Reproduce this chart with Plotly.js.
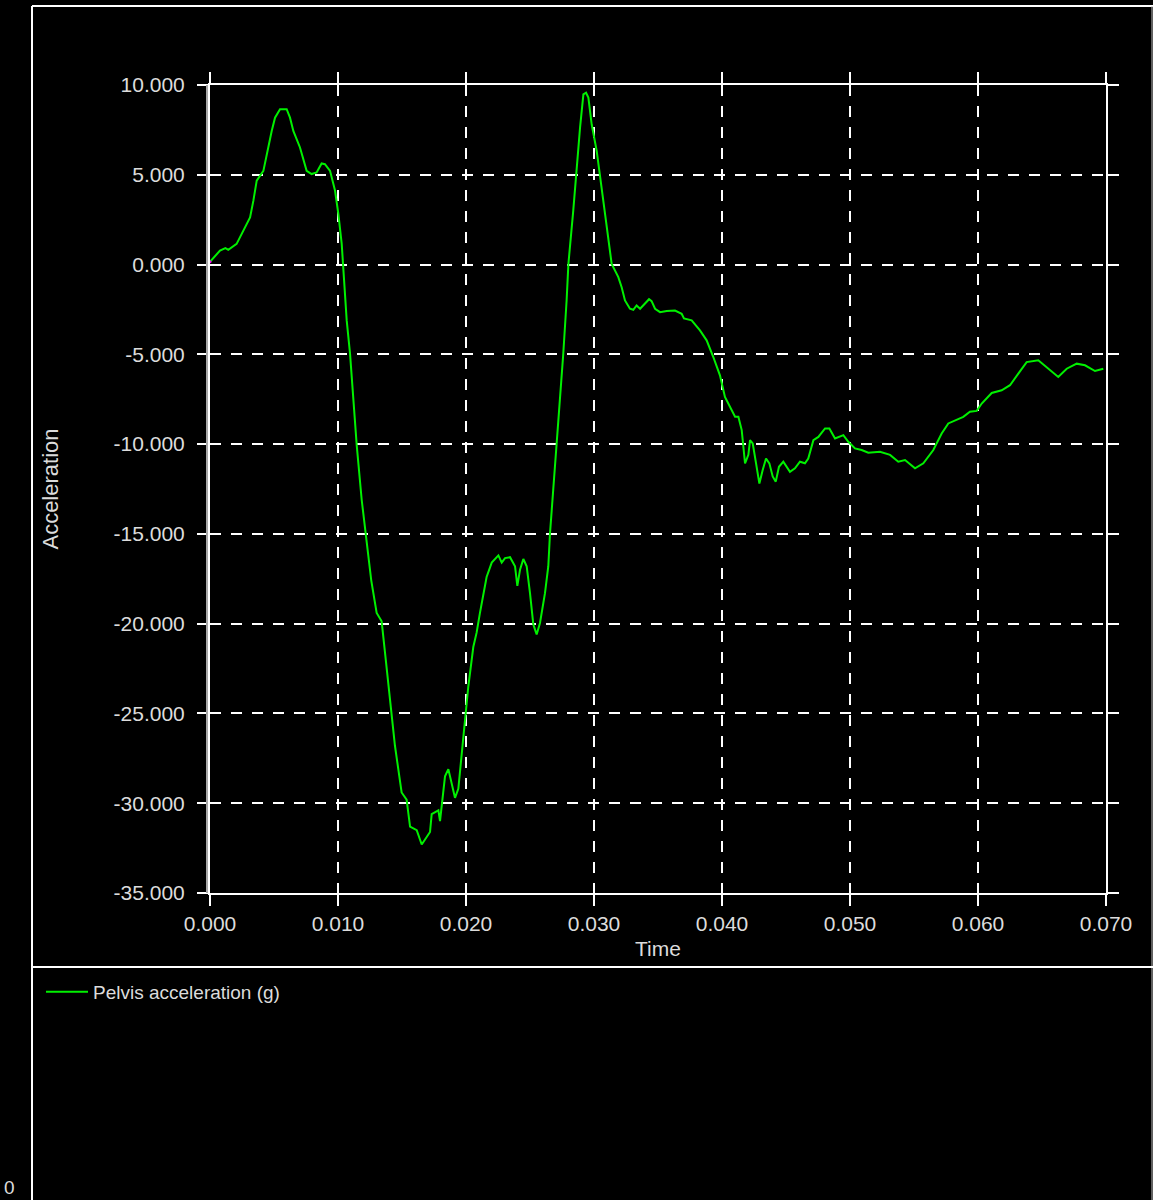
<!DOCTYPE html>
<html>
<head>
<meta charset="utf-8">
<script src="https://cdn.plot.ly/plotly-3.0.1.min.js"></script>
<style>
html,body{margin:0;padding:0;background:#000;}
#chart{width:1172px;height:1200px;}
</style>
</head>
<body>
<div id="chart"></div>
<script>
// Time (s)
const time = [
0, 0.00078, 0.0012, 0.00143, 0.00208, 0.0026, 0.00313, 0.00339, 0.00365, 0.00417,
0.00443, 0.00482, 0.00508, 0.00547, 0.00599, 0.00625, 0.00651, 0.00703, 0.00755, 0.00794,
0.00833, 0.00872, 0.00898, 0.00938, 0.00977, 0.01003, 0.01029, 0.01055, 0.01068, 0.01094,
0.0112, 0.01146, 0.01185, 0.01224, 0.0126, 0.01302, 0.01341, 0.01367, 0.01406, 0.01445,
0.01497, 0.01536, 0.01563, 0.01615, 0.01654, 0.01719, 0.01732, 0.01784, 0.01797, 0.01836,
0.01862, 0.01914, 0.0194, 0.01966, 0.01992, 0.02018, 0.02057, 0.02083, 0.02109, 0.02135,
0.02161, 0.02201, 0.02253, 0.02279, 0.02305, 0.02344, 0.02383, 0.02401, 0.02422, 0.02448,
0.02474, 0.025, 0.02526, 0.02552, 0.02578, 0.02617, 0.02643, 0.02656, 0.02708, 0.02734,
0.0276, 0.02786, 0.028, 0.02838, 0.02865, 0.02891, 0.02917, 0.02938, 0.02956, 0.02982,
0.03021, 0.0306, 0.03099, 0.03138, 0.0319, 0.03216, 0.03242, 0.03281, 0.03307, 0.03333,
0.0336, 0.03398, 0.0343, 0.0345, 0.03477, 0.03516, 0.03568, 0.03633, 0.03685, 0.03703,
0.03763, 0.03828, 0.0388, 0.03932, 0.03984, 0.04023, 0.04063, 0.04102, 0.04128, 0.04154,
0.0418, 0.04206, 0.04219, 0.0424, 0.04266, 0.04292, 0.04318, 0.04344, 0.0437, 0.04396,
0.0442, 0.04445, 0.04479, 0.04531, 0.0457, 0.04609, 0.04648, 0.04674, 0.04714, 0.04753,
0.04805, 0.04839, 0.04883, 0.04948, 0.04987, 0.05039, 0.05091, 0.05143, 0.05234, 0.05313,
0.05377, 0.0543, 0.05508, 0.05573, 0.05651, 0.05716, 0.05768, 0.0582, 0.05885, 0.05937,
0.0599, 0.06029, 0.06107, 0.06185, 0.0625, 0.06315, 0.0638, 0.06471, 0.06563, 0.06627,
0.06693, 0.06771, 0.06836, 0.06914, 0.06979
];
// Pelvis acceleration (g)
const pelvisAccel = [
0.15, 0.78, 0.92, 0.82, 1.15, 1.89, 2.63, 3.56, 4.67, 5.22,
6.15, 7.44, 8.18, 8.65, 8.65, 8.18, 7.44, 6.52, 5.22, 5.04,
5.13, 5.63, 5.59, 5.22, 4.11, 2.81, 1.15, -2.0, -3.11, -4.96,
-7.56, -10.04, -13.1, -15.6, -17.6, -19.4, -19.87, -21.6, -24.2, -26.8,
-29.4, -29.8, -31.3, -31.5, -32.3, -31.6, -30.6, -30.4, -31.0, -28.5,
-28.1, -29.7, -29.2, -27.4, -25.3, -23.5, -21.3, -20.5, -19.4, -18.3,
-17.4, -16.6, -16.2, -16.6, -16.35, -16.3, -16.8, -17.9, -17.0, -16.4,
-16.8, -18.3, -20.05, -20.6, -19.96, -18.3, -16.8, -15.0, -10.0, -7.6,
-4.96, -2.0, 0.04, 3.0, 5.4, 7.63, 9.48, 9.57, 9.3, 7.8,
6.33, 4.3, 2.07, 0.04, -0.7, -1.26, -2.0, -2.46, -2.52, -2.28,
-2.46, -2.18, -1.93, -2.04, -2.46, -2.65, -2.59, -2.56, -2.74, -3.0,
-3.11, -3.67, -4.22, -5.15, -6.17, -7.37, -7.93, -8.48, -8.48, -9.22,
-11.07, -10.6, -9.78, -9.96, -11.07, -12.2, -11.44, -10.8, -11.07, -11.8,
-12.09, -11.26, -10.98, -11.54, -11.35, -10.98, -11.07, -10.8, -9.78, -9.6,
-9.13, -9.13, -9.69, -9.5, -9.87, -10.24, -10.33, -10.48, -10.43, -10.6,
-10.98, -10.89, -11.35, -11.07, -10.33, -9.41, -8.85, -8.67, -8.48, -8.2,
-8.15, -7.74, -7.15, -7.0, -6.72, -6.07, -5.43, -5.33, -5.89, -6.26,
-5.8, -5.52, -5.61, -5.93, -5.8
];
const seriesName = "Pelvis acceleration (g)";
const xTickVals = [0, 0.01, 0.02, 0.03, 0.04, 0.05, 0.06, 0.07];
const xTickText = ["0.000", "0.010", "0.020", "0.030", "0.040", "0.050", "0.060", "0.070"];
const yTickVals = [10, 5, 0, -5, -10, -15, -20, -25, -30, -35];
const yTickText = ["10.000", "5.000", "0.000", "-5.000", "-10.000", "-15.000", "-20.000", "-25.000", "-30.000", "-35.000"];

// pixel helpers for decorative frame (plot area: x 210..1106, y 85..893)
const L = 210, R = 1106, T = 85, B = 893;
const px = v => (v - L) / (R - L);
const py = v => (B - v) / (B - T);

const FONT = "Liberation Sans, Arial, sans-serif";
const TXT = "#dcdcdc";

const traces = [
  {
    x: time, y: pelvisAccel, type: "scatter", mode: "lines",
    name: seriesName,
    line: {color: "#00f000", width: 2},
    hoverinfo: "x+y"
  },
  {
    x: [time[0]], y: [pelvisAccel[0]], type: "scatter", mode: "markers",
    marker: {color: "#ff00ff", size: 3}, showlegend: false, hoverinfo: "skip"
  }
];

const axisCommon = {
  showline: true, linecolor: "#ffffff", linewidth: 2,
  mirror: "allticks", ticks: "outside", ticklen: 11, tickwidth: 2, tickcolor: "#ffffff",
  showgrid: true, gridcolor: "#ffffff", gridwidth: 2, griddash: "11px,10px",
  zeroline: false,
  tickfont: {family: FONT, size: 21, color: TXT},
  fixedrange: true
};

const layout = {
  width: 1172, height: 1200,
  paper_bgcolor: "#000000", plot_bgcolor: "#000000",
  margin: {l: L, r: 1172 - R, t: T, b: 1200 - B},
  showlegend: true,
  legend: {
    x: px(41), y: py(992), xanchor: "left", yanchor: "middle",
    bgcolor: "rgba(0,0,0,0)", borderwidth: 0, itemwidth: 42,
    font: {family: FONT, size: 19, color: TXT}
  },
  xaxis: Object.assign({}, axisCommon, {
    range: [0, 0.07], tickmode: "array", tickvals: xTickVals, ticktext: xTickText,
    ticklabelstandoff: 0,
    title: {text: "Time", font: {family: FONT, size: 21, color: TXT}, standoff: 7}
  }),
  yaxis: Object.assign({}, axisCommon, {
    range: [-35, 10], tickmode: "array", tickvals: yTickVals, ticktext: yTickText,
    ticklabelstandoff: 8,
    title: {text: "Acceleration", font: {family: FONT, size: 22, color: TXT}, standoff: 49}
  }),
  shapes: [
    // second (gray) left axis line
    {type: "line", xref: "paper", yref: "paper", x0: px(207), x1: px(207), y0: 0, y1: 1,
     line: {color: "#a8a8a8", width: 2}},
    // outer frame: left vertical
    {type: "line", xref: "paper", yref: "paper", x0: px(32), x1: px(32), y0: py(6), y1: py(1210),
     line: {color: "#ffffff", width: 2}},
    // outer frame: top
    {type: "line", xref: "paper", yref: "paper", x0: px(32), x1: px(1153), y0: py(6), y1: py(6),
     line: {color: "#ffffff", width: 2}},
    // right white panel
    {type: "rect", xref: "paper", yref: "paper", x0: px(1153), x1: px(1180), y0: py(-10), y1: py(1210),
     fillcolor: "#ffffff", line: {width: 0}},
    {type: "line", xref: "paper", yref: "paper", x0: px(1152), x1: px(1152), y0: py(6), y1: py(1210),
     line: {color: "#c0c0c0", width: 1}},
    // separator between plot and legend panel
    {type: "line", xref: "paper", yref: "paper", x0: px(32), x1: px(1153), y0: py(967), y1: py(967),
     line: {color: "#ffffff", width: 2}}
  ],
  annotations: [
    {text: "0", xref: "paper", yref: "paper", x: px(2), y: py(1187), xanchor: "left", yanchor: "middle",
     showarrow: false, font: {family: FONT, size: 19, color: TXT}}
  ]
};

Plotly.newPlot("chart", traces, layout, {staticPlot: true, displayModeBar: false});
</script>
</body>
</html>
